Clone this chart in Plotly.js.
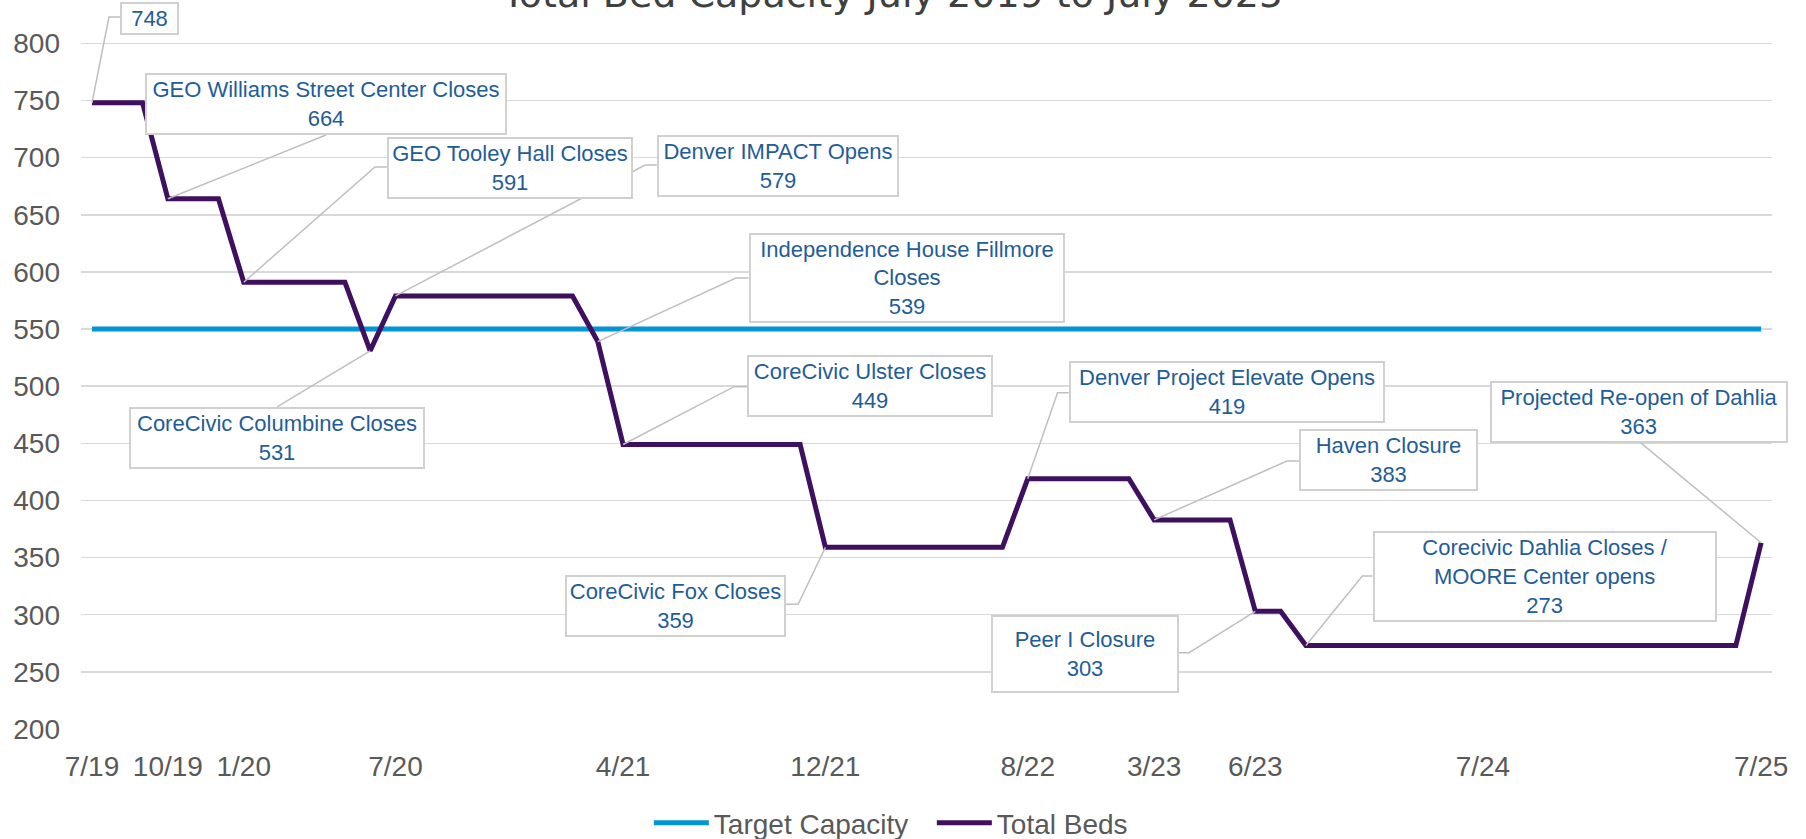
<!DOCTYPE html>
<html><head><meta charset="utf-8">
<script src="https://cdn.plot.ly/plotly-3.0.1.min.js"></script>
<style>html,body{margin:0;padding:0;background:#fff;overflow:hidden}#chart{width:1806px;height:839px}</style>
</head><body><div id="chart"></div>
<script>
// ---- data ----
const chartTitle = 'Total Bed Capacity July 2019 to July 2025';
const totalBeds = [748,748,748,664,664,664,591,591,591,591,591,531,579,579,579,579,579,579,579,579,
  539,449,449,449,449,449,449,449,449,359,359,359,359,359,359,359,359,419,419,419,419,419,
  383,383,383,383,303,303,273,273,273,273,273,273,273,273,273,273,273,273,273,273,273,273,273,273,363];
const targetCapacity = [550,550,550,550,550,550,550,550,550,550,550,550,550,550,550,550,550,550,550,550,
  550,550,550,550,550,550,550,550,550,550,550,550,550,550,550,550,550,550,550,550,550,550,
  550,550,550,550,550,550,550,550,550,550,550,550,550,550,550,550,550,550,550,550,550,550,550,550,550];
const tickIndex = [0,3,6,12,21,29,37,42,46,55,66];
const tickLabels = ['7/19','10/19','1/20','7/20','4/21','12/21','8/22','3/23','6/23','7/24','7/25'];
const eventIndex = [0,3,6,12,20,21,29,37,42,46,48,66,11];
const eventNames = ['', 'GEO Williams Street Center Closes', 'GEO Tooley Hall Closes', 'Denver IMPACT Opens',
  'Independence House Fillmore<br>Closes', 'CoreCivic Ulster Closes', 'CoreCivic Fox Closes',
  'Denver Project Elevate Opens', 'Haven Closure', 'Peer I Closure',
  'Corecivic Dahlia Closes /<br>MOORE Center opens', 'Projected Re-open of Dahlia', 'CoreCivic Columbine Closes'];

// ---- callout layout (box centre in axis units, box size px, leader bend points in axis units) ----
const boxes = [
  {cx:2.29, cy:821.8, w:59, h:33, leader:[[0.67,823.1],[1.13,823.1]]},
  {cx:9.25, cy:747.1, w:362, h:62, leader:[[9.25,719.9]]},
  {cx:16.54, cy:691.0, w:246, h:62, leader:[[11.19,691.9],[11.66,691.9]]},
  {cx:27.12, cy:692.7, w:242, h:62, leader:[[21.87,693.6],[22.33,693.6]]},
  {cx:32.22, cy:595.0, w:316, h:90, leader:[[25.46,594.7],[25.96,594.7]]},
  {cx:30.76, cy:500.4, w:246, h:62, leader:[[25.39,499.6],[25.90,499.6]]},
  {cx:23.07, cy:307.6, w:221, h:62, leader:[[27.92,309.1],[27.44,309.1]]},
  {cx:44.87, cy:495.2, w:316, h:62, leader:[[38.18,494.3],[38.62,494.3]]},
  {cx:51.27, cy:435.4, w:179, h:62, leader:[[47.25,434.6],[47.73,434.6]]},
  {cx:39.26, cy:265.7, w:188, h:78, leader:[[43.38,266.8],[42.98,266.8]]},
  {cx:57.45, cy:333.5, w:344, h:91, leader:[[50.23,333.9],[50.64,333.9]]},
  {cx:61.19, cy:477.5, w:298, h:62, leader:[[61.23,450.6]]},
  {cx:7.31, cy:454.8, w:296, h:62, leader:[[7.33,482.1]]}
];

const periodIndex = totalBeds.map((_, i) => i);
const FONT = 'Liberation Sans, Arial, sans-serif';

const traces = [
  {x: periodIndex, y: targetCapacity, name: 'Target Capacity', type: 'scatter', mode: 'lines',
   line: {color: '#0096D6', width: 5}, hoverinfo: 'skip'},
  {x: periodIndex, y: totalBeds, name: 'Total Beds', type: 'scatter', mode: 'lines',
   line: {color: '#3F1060', width: 5}, hoverinfo: 'skip'}
];

const shapes = [];
const annotations = [];
eventIndex.forEach((idx, k) => {
  const b = boxes[k];
  const pts = [[idx, totalBeds[idx]]].concat(b.leader);
  shapes.push({type: 'path', xref: 'x', yref: 'y', layer: 'above',
    path: 'M' + pts.map(p => p[0] + ',' + p[1]).join(' L'),
    line: {color: '#BFBFBF', width: 1.5}});
  const txt = eventNames[k] ? eventNames[k] + '<br>' + totalBeds[idx] : String(totalBeds[idx]);
  annotations.push({xref: 'x', yref: 'y', x: b.cx, y: b.cy, xanchor: 'center', yanchor: 'middle',
    text: txt, showarrow: false, align: 'center', width: b.w - 4, height: b.h - 4,
    bgcolor: '#FFFFFF', bordercolor: '#D0D0D0', borderwidth: 2, borderpad: 0,
    font: {family: FONT, size: 22, color: '#1F5D99'}});
});
annotations.push({xref: 'paper', yref: 'paper', x: 0.4796, y: 0.9753, xanchor: 'center', yanchor: 'bottom',
  text: chartTitle, showarrow: false, font: {family: 'DejaVu Sans, sans-serif', size: 38, color: '#404040'}});

const layout = {
  width: 1806, height: 839,
  margin: {l: 81, r: 34, t: 0, b: 110, autoexpand: false},
  paper_bgcolor: '#FFFFFF', plot_bgcolor: '#FFFFFF',
  showlegend: true,
  legend: {orientation: 'h', x: 0.3358, xanchor: 'left', y: -0.129, yanchor: 'middle',
    font: {family: FONT, size: 28, color: '#595959'}, itemwidth: 55,
    entrywidth: 213, entrywidthmode: 'pixels', bgcolor: 'rgba(0,0,0,0)'},
  xaxis: {range: [-0.435, 66.43], tickmode: 'array', tickvals: tickIndex, ticktext: tickLabels,
    showgrid: false, zeroline: false, showline: false, ticks: '', ticklabelstandoff: 18,
    tickfont: {family: FONT, size: 28, color: '#595959'}, fixedrange: true},
  yaxis: {range: [200, 838], tick0: 200, dtick: 50, showgrid: true, gridcolor: '#D9D9D9', gridwidth: 1.5,
    zeroline: false, showline: false, ticks: '', ticklabelstandoff: 20,
    tickfont: {family: FONT, size: 28, color: '#595959'}, fixedrange: true},
  shapes: shapes,
  annotations: annotations,
  hovermode: false
};

Plotly.newPlot('chart', traces, layout, {displayModeBar: false, staticPlot: true});
</script>
</body></html>
